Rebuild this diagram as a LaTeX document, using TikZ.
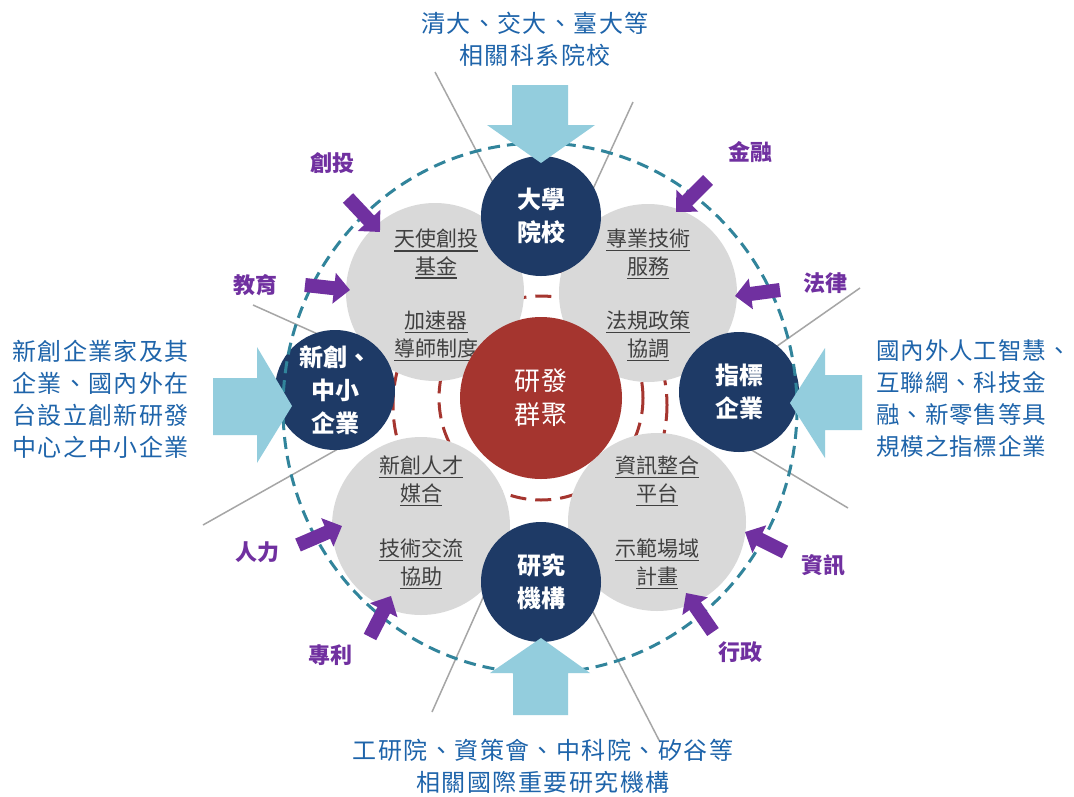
\documentclass[tikz,border=0pt]{standalone}
\usepackage{fontspec}
\setmainfont{Noto Sans CJK TC}
\newfontfamily\cjksp[LetterSpace=6]{Noto Sans CJK TC}
\newfontfamily\cjkspr[LetterSpace=4]{Noto Sans CJK TC}
\usetikzlibrary{arrows.meta}
\definecolor{navy}{HTML}{1E3A66}
\definecolor{brick}{HTML}{A5352F}
\definecolor{cgray}{HTML}{D9D9D9}
\definecolor{lblue}{HTML}{93CDDD}
\definecolor{teal2}{HTML}{31849B}
\definecolor{tblue}{HTML}{1E64AA}
\definecolor{purp}{HTML}{7030A0}
\definecolor{linegray}{HTML}{A6A6A6}
\definecolor{txtgray}{HTML}{404040}
\newcommand{\ulx}[1]{\vtop{\hbox{#1}\kern1.5pt\hrule height 1.6pt}}
\tikzset{
 graycirc/.style={circle, fill=cgray, minimum size=178pt, inner sep=0pt},
 navycirc/.style={circle, fill=navy, minimum size=120pt, inner sep=0pt, text=white, align=center, font=\fontsize{24}{33}\selectfont\bfseries},
 redcirc/.style={circle, fill=brick, minimum size=162pt, inner sep=0pt, text=white, align=center, font=\cjksp\fontsize{26}{34}\selectfont},
 graytxt/.style={text=txtgray, align=center, font=\fontsize{21}{28}\selectfont, inner sep=0pt},
 outtxt/.style={text=tblue, font=\cjksp\fontsize{24}{32}\selectfont, inner sep=0pt},
 plabel/.style={text=purp, font=\fontsize{22}{26}\selectfont\bfseries, inner sep=0pt},
 parrow/.style={draw=purp, line width=14pt, -{Triangle[length=16pt,width=30pt]}},
 ray/.style={draw=linegray, line width=1.5pt},
 reddash/.style={draw=brick, line width=3pt, dash pattern=on 16pt off 9pt},
 tealdash/.style={draw=teal2, line width=3pt, dash pattern=on 12pt off 7pt},
 bluearrow/.style={fill=lblue},
}
\begin{document}
\begin{tikzpicture}[x=1pt,y=-1pt]
\useasboundingbox[fill=white] (0,0) rectangle (1074,796);

% rays
\coordinate (ra1) at (435,72);  \coordinate (ra2) at (510,215);
\coordinate (rb1) at (633,102); \coordinate (rb2) at (581,215);
\coordinate (rc1) at (860,288); \coordinate (rc2) at (760,358);
\coordinate (rd1) at (848,508); \coordinate (rd2) at (735,440);
\coordinate (re1) at (253,305); \coordinate (re2) at (340,344);
\coordinate (rf1) at (203,525); \coordinate (rf2) at (345,445);
\coordinate (rg1) at (432,712); \coordinate (rg2) at (490,582);
\coordinate (rh1) at (660,742); \coordinate (rh2) at (580,587);
\foreach \r in {a,b,c,d,e,f,g,h} {\draw[ray] (r\r1) -- (r\r2);}

% red dashed rings
\coordinate (ctr) at (541,398);
\coordinate (ctr2) at (530,405);
\draw[reddash] (ctr2) circle[radius=137];
\draw[reddash] (ctr) circle[radius=102];

% gray circles
\node[graycirc] (g1) at (435,292) {};
\node[graycirc] (g2) at (648,293) {};
\node[graycirc] (g3) at (421,526) {};
\node[graycirc] (g4) at (657,522) {};

\node[graytxt] (t1a) at (436,254) {\ulx{天使創投}\\\ulx{基金}};
\node[graytxt] (t1b) at (436,336) {\ulx{加速器}\\\ulx{導師制度}};
\node[graytxt] (t2a) at (648,254) {\ulx{專業技術}\\\ulx{服務}};
\node[graytxt] (t2b) at (648,336) {\ulx{法規政策}\\\ulx{協調}};
\node[graytxt] (t3a) at (421,481) {\ulx{新創人才}\\\ulx{媒合}};
\node[graytxt] (t3b) at (421,564) {\ulx{技術交流}\\\ulx{協助}};
\node[graytxt] (t4a) at (657,481) {\ulx{資訊整合}\\\ulx{平台}};
\node[graytxt] (t4b) at (657,564) {\ulx{示範場域}\\\ulx{計畫}};

% center
\node[redcirc] (c) at (ctr) {研發\\群聚};

% navy circles
\node[navycirc] (n1) at (541,216) {大學\\院校};
\node[navycirc] (n2) at (335,390) {新創、\\中小\\企業};
\node[navycirc] (n3) at (739,392) {指標\\企業};
\node[navycirc] (n4) at (541,582) {研究\\機構};

% teal dashed ring
\draw[tealdash] (540,408) ellipse[x radius=257, y radius=265];

% light blue block arrows
\fill[bluearrow] (512,85) -- (568,85) -- (568,125) -- (595,125) -- (541,163) -- (487,125) -- (512,125) -- cycle;
\fill[bluearrow] (513,715) -- (568,715) -- (568,673) -- (590,673) -- (541,638) -- (490,673) -- (513,673) -- cycle;
\fill[bluearrow] (213,378) -- (257,378) -- (257,347) -- (292,406) -- (257,463) -- (257,435) -- (213,435) -- cycle;
\fill[bluearrow] (862,375) -- (825,375) -- (825,348) -- (790,403) -- (825,458) -- (825,430) -- (862,430) -- cycle;

% purple arrows
\coordinate (pa1) at (348,198); \coordinate (pa2) at (380,232);
\coordinate (pb1) at (305,285); \coordinate (pb2) at (350,290);
\coordinate (pc1) at (708,180); \coordinate (pc2) at (676,212);
\coordinate (pd1) at (780,290); \coordinate (pd2) at (735,296);
\coordinate (pe1) at (298,545); \coordinate (pe2) at (342,526);
\coordinate (pf1) at (370,637); \coordinate (pf2) at (391,596);
\coordinate (pg1) at (785,552); \coordinate (pg2) at (745,532);
\coordinate (ph1) at (713,632); \coordinate (ph2) at (686,593);
\foreach \p in {a,b,c,d,e,f,g,h} {\draw[parrow] (p\p1) -- (p\p2);}

\node[plabel] (l1) at (332,163) {創投};
\node[plabel] (l2) at (255,285) {教育};
\node[plabel] (l3) at (750,152) {金融};
\node[plabel] (l4) at (825,283) {法律};
\node[plabel] (l5) at (257,552) {人力};
\node[plabel] (l6) at (330,655) {專利};
\node[plabel] (l7) at (823,565) {資訊};
\node[plabel] (l8) at (740,652) {行政};

% outer texts
\node[outtxt, align=center] (otop) at (535,39) {清大、交大、臺大等\\相關科系院校};
\node[outtxt, align=left, anchor=west] (oleft) at (12,399) {新創企業家及其\\企業、國內外在\\台設立創新研發\\中心之中小企業};
\node[outtxt, font=\cjkspr\fontsize{23.5}{32}\selectfont, align=left, anchor=west] (oright) at (876,399) {國內外人工智慧、\\互聯網、科技金\\融、新零售等具\\規模之指標企業};
\node[outtxt, align=center] (obot) at (543,766) {工研院、資策會、中科院、矽谷等\\相關國際重要研究機構};
\end{tikzpicture}
\end{document}
